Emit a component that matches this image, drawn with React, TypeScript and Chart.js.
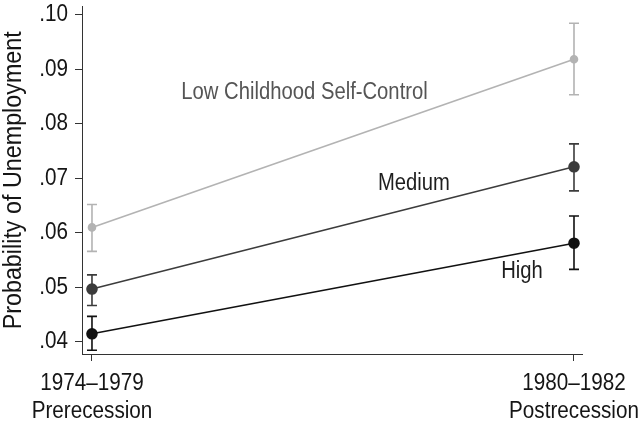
import React, { useEffect, useRef } from "react";
import { Chart, registerables } from "chart.js";
Chart.register(...registerables);

const periods = [0, 1];
const periodLabels = [["1974–1979", "Prerecession"], ["1980–1982", "Postrecession"]];
const yTicks = [0.04, 0.05, 0.06, 0.07, 0.08, 0.09, 0.1];
const seriesNames = ["Low Childhood Self-Control", "Medium", "High"];
const lowValues = [0.061, 0.0918];
const lowLower = [0.0566, 0.0853];
const lowUpper = [0.0652, 0.0984];
const mediumValues = [0.0497, 0.0721];
const mediumLower = [0.0467, 0.0677];
const mediumUpper = [0.0523, 0.0763];
const highValues = [0.0415, 0.0581];
const highLower = [0.0385, 0.0533];
const highUpper = [0.0447, 0.0631];

const FONT = "'Liberation Sans', Arial, sans-serif";
const SX = 0.88; // horizontal condensing of all text

function condense(ctx: any) {
  if (ctx.__condensed) return;
  ctx.__condensed = true;
  const origFill = ctx.fillText.bind(ctx);
  const origMeasure = ctx.measureText.bind(ctx);
  ctx.fillText = (t: string, x: number, y: number) => {
    ctx.save();
    ctx.translate(x, y);
    ctx.scale(SX, 1);
    origFill(t, 0, 0);
    ctx.restore();
  };
  ctx.measureText = (t: string) => {
    const m = origMeasure(t);
    return {
      width: m.width * SX,
      actualBoundingBoxAscent: m.actualBoundingBoxAscent,
      actualBoundingBoxDescent: m.actualBoundingBoxDescent,
      actualBoundingBoxLeft: m.actualBoundingBoxLeft * SX,
      actualBoundingBoxRight: m.actualBoundingBoxRight * SX,
    };
  };
}

const errorBarPlugin = {
  id: "errorBars",
  afterDatasetsDraw(chart: any) {
    const ctx = chart.ctx;
    const xs = chart.scales.x;
    const ys = chart.scales.y;
    chart.data.datasets.forEach((ds: any) => {
      ctx.save();
      ctx.strokeStyle = ds.borderColor;
      ctx.lineWidth = 1.6;
      ds.data.forEach((p: any, i: number) => {
        const x = xs.getPixelForValue(p.x);
        const y1 = ys.getPixelForValue(ds.lower[i]);
        const y2 = ys.getPixelForValue(ds.upper[i]);
        ctx.beginPath();
        ctx.moveTo(x, y1);
        ctx.lineTo(x, y2);
        ctx.moveTo(x - 5, y1);
        ctx.lineTo(x + 5, y1);
        ctx.moveTo(x - 5, y2);
        ctx.lineTo(x + 5, y2);
        ctx.stroke();
      });
      ctx.restore();
    });
  },
};

const labelPlugin = {
  id: "seriesLabels",
  afterDatasetsDraw(chart: any) {
    const ctx = chart.ctx;
    const xs = chart.scales.x;
    const ys = chart.scales.y;
    const spots = [
      { x: 0.441, y: 0.0856, color: "#555555" },
      { x: 0.668, y: 0.069, color: "#1e1e1e" },
      { x: 0.892, y: 0.0529, color: "#1e1e1e" },
    ];
    ctx.save();
    ctx.font = `23px ${FONT}`;
    ctx.textAlign = "center";
    ctx.textBaseline = "middle";
    spots.forEach((s, i) => {
      ctx.fillStyle = s.color;
      ctx.fillText(seriesNames[i], xs.getPixelForValue(s.x), ys.getPixelForValue(s.y));
    });
    ctx.restore();
  },
};

export default function App() {
  const ref = useRef<HTMLCanvasElement>(null);
  useEffect(() => {
    document.body.style.margin = "0";
    condense(ref.current!.getContext("2d"));
    const mk = (vals: number[]) => vals.map((v, i) => ({ x: periods[i], y: v }));
    const chart = new Chart(ref.current!, {
      type: "line",
      data: {
        datasets: [
          { label: seriesNames[0], data: mk(lowValues), lower: lowLower, upper: lowUpper, borderColor: "#b3b3b3", backgroundColor: "#b3b3b3", pointRadius: 3.5, borderWidth: 1.6 } as any,
          { label: seriesNames[1], data: mk(mediumValues), lower: mediumLower, upper: mediumUpper, borderColor: "#3c3c3c", backgroundColor: "#3c3c3c", pointRadius: 5, borderWidth: 1.6 } as any,
          { label: seriesNames[2], data: mk(highValues), lower: highLower, upper: highUpper, borderColor: "#111111", backgroundColor: "#111111", pointRadius: 5, borderWidth: 1.6 } as any,
        ],
      },
      options: {
        animation: false,
        responsive: false,
        maintainAspectRatio: false,
        layout: { padding: { top: 5, right: 58, left: 0, bottom: 0 } },
        plugins: { legend: { display: false }, tooltip: { enabled: false } },
        scales: {
          x: {
            type: "linear",
            min: -0.0207,
            max: 1.0166,
            afterBuildTicks: (s: any) => { s.ticks = periods.map((v) => ({ value: v })); },
            afterFit: (s: any) => { s.height = 72; s.paddingLeft = 0; s.paddingRight = 0; },
            ticks: {
              color: "#151515",
              font: { family: FONT, size: 23.5 },
              padding: 8,
              maxRotation: 0,
              autoSkip: false,
              callback: (v: any) => periodLabels[periods.indexOf(v)] as any,
            },
            grid: { drawOnChartArea: false, drawTicks: true, tickLength: 7, color: "#333", lineWidth: 1 },
            border: { display: true, color: "#333", width: 1 },
          },
          y: {
            type: "linear",
            min: 0.0378,
            max: 0.10146,
            afterBuildTicks: (s: any) => { s.ticks = yTicks.map((v) => ({ value: v })); },
            afterFit: (s: any) => { s.width = 82; s.paddingTop = 0; s.paddingBottom = 0; },
            ticks: {
              color: "#151515",
              font: { family: FONT, size: 23.5 },
              padding: 7,
              callback: (v: any) => Number(v).toFixed(2).replace(/^0/, ""),
            },
            grid: { drawOnChartArea: false, drawTicks: true, tickLength: 7, color: "#333", lineWidth: 1 },
            border: { display: true, color: "#333", width: 1 },
            title: {
              display: true,
              text: "Probability of Unemployment",
              color: "#151515",
              font: { family: FONT, size: 26.5 },
              padding: { top: -2, bottom: 0 },
            },
          },
        },
      },
      plugins: [errorBarPlugin, labelPlugin],
    } as any);
    return () => chart.destroy();
  }, []);
  return (
    <div style={{ position: "fixed", left: 0, top: 0, width: 640, height: 426, background: "#fff" }}>
      <canvas ref={ref} width={640} height={426} />
    </div>
  );
}
